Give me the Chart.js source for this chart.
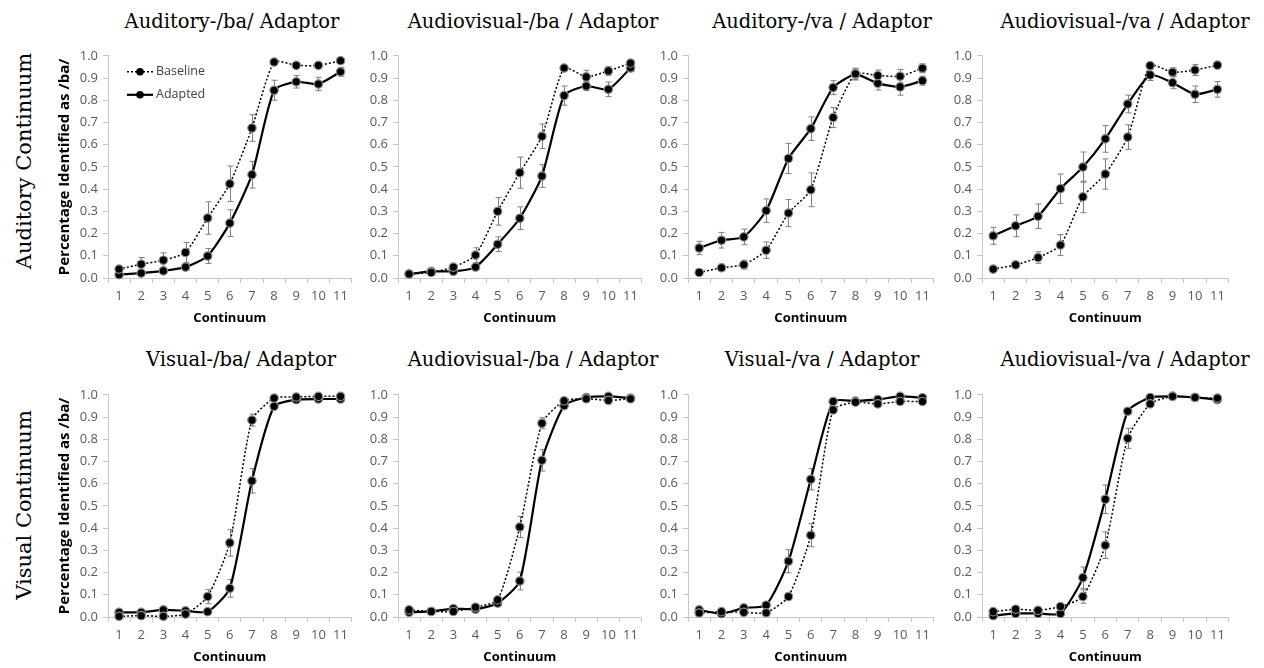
<!DOCTYPE html>
<html><head><meta charset="utf-8">
<script src="https://cdn.jsdelivr.net/npm/chart.js@4"></script>
<style>
body{margin:0;background:#fff;width:1264px;height:668px;position:relative;overflow:hidden;}
.c{position:absolute}
.t{position:absolute;width:400px;text-align:center;font-family:"DejaVu Serif";font-size:19.5px;line-height:24px;color:#000;white-space:nowrap}
.r{position:absolute;width:300px;height:30px;line-height:30px;text-align:center;font-family:"DejaVu Serif";font-size:21px;color:#000;transform:rotate(-90deg);white-space:nowrap}
</style></head><body>
<script>
// ---------- data ----------
const categories = ['1','2','3','4','5','6','7','8','9','10','11'];
const seriesNames = ['Baseline','Adapted'];
const rowLabels = ['Auditory Continuum','Visual Continuum'];
const panelTitles = ['Auditory-/ba/ Adaptor','Audiovisual-/ba / Adaptor','Auditory-/va / Adaptor','Audiovisual-/va / Adaptor',
                     'Visual-/ba/ Adaptor','Audiovisual-/ba / Adaptor','Visual-/va / Adaptor','Audiovisual-/va / Adaptor'];
const yAxisTitle = 'Percentage Identified as /ba/';
const xAxisTitle = 'Continuum';

// Auditory continuum, Auditory-/ba/ adaptor
const audBaBase     = [0.040,0.062,0.080,0.115,0.270,0.424,0.675,0.972,0.957,0.957,0.978];
const audBaBaseErr  = [0.010,0.030,0.033,0.045,0.073,0.080,0.060,0.010,0.010,0.010,0.010];
const audBaAdapt    = [0.015,0.022,0.032,0.049,0.099,0.247,0.465,0.845,0.883,0.873,0.928];
const audBaAdaptErr = [0.005,0.010,0.010,0.015,0.034,0.060,0.060,0.045,0.028,0.030,0.020];
// Auditory continuum, Audiovisual-/ba adaptor
const avBaBase      = [0.018,0.025,0.049,0.103,0.300,0.474,0.638,0.945,0.905,0.932,0.967];
const avBaBaseErr   = [0.005,0.010,0.010,0.033,0.062,0.070,0.055,0.010,0.030,0.020,0.010];
const avBaAdapt     = [0.018,0.030,0.030,0.049,0.152,0.269,0.459,0.821,0.864,0.849,0.945];
const avBaAdaptErr  = [0.005,0.005,0.008,0.012,0.033,0.051,0.051,0.043,0.020,0.033,0.015];
// Auditory continuum, Auditory-/va adaptor
const audVaBase     = [0.025,0.046,0.060,0.125,0.292,0.397,0.722,0.919,0.911,0.908,0.944];
const audVaBaseErr  = [0.008,0.010,0.020,0.037,0.061,0.076,0.045,0.025,0.025,0.030,0.020];
const audVaAdapt    = [0.135,0.170,0.185,0.303,0.538,0.672,0.857,0.916,0.876,0.860,0.888];
const audVaAdaptErr = [0.030,0.035,0.035,0.053,0.068,0.053,0.031,0.025,0.030,0.037,0.020];
// Auditory continuum, Audiovisual-/va adaptor
const avVaBase      = [0.040,0.059,0.092,0.148,0.365,0.468,0.634,0.956,0.926,0.936,0.958];
const avVaBaseErr   = [0.005,0.010,0.026,0.047,0.071,0.068,0.055,0.010,0.020,0.025,0.010];
const avVaAdapt     = [0.190,0.235,0.278,0.402,0.499,0.626,0.783,0.914,0.879,0.827,0.849];
const avVaAdaptErr  = [0.038,0.049,0.055,0.066,0.068,0.060,0.040,0.025,0.027,0.037,0.035];
// Visual continuum, Visual-/ba/ adaptor
const visBaBase     = [0.003,0.006,0.003,0.013,0.092,0.334,0.886,0.985,0.990,0.993,0.993];
const visBaBaseErr  = [0.005,0.005,0.005,0.005,0.032,0.060,0.027,0.008,0.005,0.005,0.005];
const visBaAdapt    = [0.021,0.021,0.032,0.028,0.024,0.129,0.613,0.948,0.978,0.981,0.981];
const visBaAdaptErr = [0.006,0.006,0.006,0.006,0.006,0.040,0.055,0.010,0.006,0.006,0.006];
// Visual continuum, Audiovisual-/ba adaptor
const vAvBaBase     = [0.032,0.025,0.025,0.044,0.077,0.405,0.872,0.973,0.982,0.975,0.982];
const vAvBaBaseErr  = [0.008,0.005,0.005,0.008,0.010,0.048,0.025,0.008,0.005,0.005,0.005];
const vAvBaAdapt    = [0.021,0.025,0.038,0.035,0.062,0.162,0.705,0.951,0.988,0.993,0.985];
const vAvBaAdaptErr = [0.005,0.005,0.006,0.006,0.008,0.040,0.048,0.010,0.005,0.005,0.005];
// Visual continuum, Visual-/va adaptor
const visVaBase     = [0.018,0.024,0.021,0.019,0.092,0.368,0.932,0.967,0.959,0.970,0.970];
const visVaBaseErr  = [0.005,0.005,0.005,0.005,0.015,0.052,0.012,0.006,0.006,0.006,0.006];
const visVaAdapt    = [0.032,0.015,0.041,0.053,0.251,0.620,0.970,0.972,0.979,0.993,0.987];
const visVaAdaptErr = [0.006,0.005,0.006,0.006,0.052,0.048,0.006,0.005,0.005,0.005,0.005];
// Visual continuum, Audiovisual-/va adaptor
const vAvVaBase     = [0.024,0.035,0.030,0.047,0.092,0.323,0.804,0.959,0.993,0.988,0.985];
const vAvVaBaseErr  = [0.005,0.006,0.006,0.006,0.030,0.060,0.045,0.010,0.005,0.005,0.005];
const vAvVaAdapt    = [0.006,0.016,0.016,0.016,0.177,0.530,0.926,0.988,0.993,0.988,0.978];
const vAvVaAdaptErr = [0.005,0.005,0.005,0.005,0.048,0.064,0.010,0.005,0.005,0.005,0.005];

const panelSeries = [
  [audBaBase,audBaBaseErr,audBaAdapt,audBaAdaptErr],
  [avBaBase,avBaBaseErr,avBaAdapt,avBaAdaptErr],
  [audVaBase,audVaBaseErr,audVaAdapt,audVaAdaptErr],
  [avVaBase,avVaBaseErr,avVaAdapt,avVaAdaptErr],
  [visBaBase,visBaBaseErr,visBaAdapt,visBaAdaptErr],
  [vAvBaBase,vAvBaBaseErr,vAvBaAdapt,vAvBaAdaptErr],
  [visVaBase,visVaBaseErr,visVaAdapt,visVaAdaptErr],
  [vAvVaBase,vAvVaBaseErr,vAvVaAdapt,vAvVaAdaptErr]
];

// ---------- layout ----------
const colBox = [ {left:56, width:301, yw:52}, {left:363, width:284, yw:35}, {left:653, width:286, yw:35}, {left:947, width:287, yw:35} ];
const rowBox = [ {top:43, height:283}, {top:382, height:283} ];
const titleCenters = [232, 533, 822, 1125, 241, 533, 822, 1125];
const titleTops = [9.5, 347.5];
const rowLabelPos = [{x:24, y:161}, {x:24, y:505}];
const axisGray = '#c8c8c8';

const errorBarPlugin = {
  id:'errbars',
  beforeDatasetsDraw(chart){
    const {ctx, scales:{x,y}} = chart;
    ctx.save(); ctx.strokeStyle='#7f7f7f'; ctx.lineWidth=1;
    chart.data.datasets.forEach(ds=>{
      const err = ds.errorBars; if(!err) return;
      ds.data.forEach((v,i)=>{
        const px = Math.round(x.getPixelForValue(i))+0.5;
        const t = y.getPixelForValue(v+err[i]), b = y.getPixelForValue(v-err[i]);
        ctx.beginPath();
        ctx.moveTo(px,t); ctx.lineTo(px,b);
        ctx.moveTo(px-3,t); ctx.lineTo(px+3,t);
        ctx.moveTo(px-3,b); ctx.lineTo(px+3,b);
        ctx.stroke();
      });
    });
    ctx.restore();
  }
};

const insideLegendPlugin = {
  id:'insideLegend',
  afterDatasetsDraw(chart){
    const {ctx, chartArea:a} = chart;
    chart.data.datasets.forEach((ds,i)=>{
      const y = a.top + 16 + i*23;
      const x0 = a.left + 19, x1 = a.left + 45;
      ctx.save();
      ctx.strokeStyle = ds.borderColor; ctx.lineWidth = ds.borderWidth;
      ctx.setLineDash(ds.borderDash || []);
      ctx.beginPath(); ctx.moveTo(x0,y); ctx.lineTo(x1,y); ctx.stroke();
      ctx.setLineDash([]);
      ctx.beginPath(); ctx.arc((x0+x1)/2, y, 3.8, 0, Math.PI*2);
      ctx.fillStyle = ds.pointBackgroundColor; ctx.fill();
      ctx.fillStyle = '#404040'; ctx.font = '12.5px "Open Sans"';
      ctx.textBaseline = 'middle'; ctx.textAlign = 'left';
      ctx.fillText(ds.label, x1 + 3, y);
      ctx.restore();
    });
  }
};

function addDiv(cls, text, style){
  const d = document.createElement('div'); d.className = cls; d.textContent = text;
  Object.assign(d.style, style); document.body.appendChild(d); return d;
}

rowLabels.forEach((t,r)=>{
  addDiv('r', t, {left:(rowLabelPos[r].x-150)+'px', top:(rowLabelPos[r].y-15)+'px'});
});

panelSeries.forEach((s,p)=>{
  const r = Math.floor(p/4), c = p%4;
  addDiv('t', panelTitles[p], {left:(titleCenters[p]-200)+'px', top:titleTops[r]+'px'});
  const box = document.createElement('div'); box.className='c';
  Object.assign(box.style, {left:colBox[c].left+'px', top:rowBox[r].top+'px', width:colBox[c].width+'px', height:rowBox[r].height+'px'});
  const cv = document.createElement('canvas'); box.appendChild(cv); document.body.appendChild(box);
  const yw = colBox[c].yw;
  const common = {borderColor:'#000', pointRadius:4.2, pointBackgroundColor:'#000', pointBorderColor:'#8c8c8c',
                  pointBorderWidth:1.2, tension:0.2, clip:false, fill:false};
  new Chart(cv, {
    type:'line',
    data:{labels:categories, datasets:[
      Object.assign({label:seriesNames[0], data:s[0], errorBars:s[1], borderWidth:1.5, borderDash:[2,2]}, common),
      Object.assign({label:seriesNames[1], data:s[2], errorBars:s[3], borderWidth:2.2}, common)
    ]},
    options:{
      responsive:true, maintainAspectRatio:false, animation:false,
      layout:{padding:{top:10,right:0,bottom:0,left:0}},
      plugins:{legend:{display:false}, tooltip:{enabled:false}, title:{display:false}},
      scales:{
        x:{type:'category', offset:true,
           grid:{offset:true, drawOnChartArea:false, drawTicks:true, tickLength:5, color:axisGray},
           border:{color:axisGray},
           ticks:{padding:5, color:'#595959', font:{family:'Open Sans', size:13}, maxRotation:0, autoSkip:false},
           title:{display:true, text:xAxisTitle, color:'#000', font:{family:'Open Sans', size:13, weight:'bold'}, padding:0},
           afterFit:sc=>{sc.height=48;}},
        y:{min:0, max:1,
           grid:{drawOnChartArea:false, drawTicks:true, tickLength:5, color:axisGray},
           border:{color:axisGray},
           ticks:{stepSize:0.1, padding:5, color:'#595959', font:{family:'Open Sans', size:13}, callback:v=>Number(v).toFixed(1)},
           title:{display:c===0, text:yAxisTitle, color:'#000', font:{family:'Open Sans', size:15, weight:'bold'}, padding:0},
           afterFit:sc=>{sc.width=yw;}}
      }
    },
    plugins: p===0 ? [errorBarPlugin, insideLegendPlugin] : [errorBarPlugin]
  });
});
</script>
</body></html>
